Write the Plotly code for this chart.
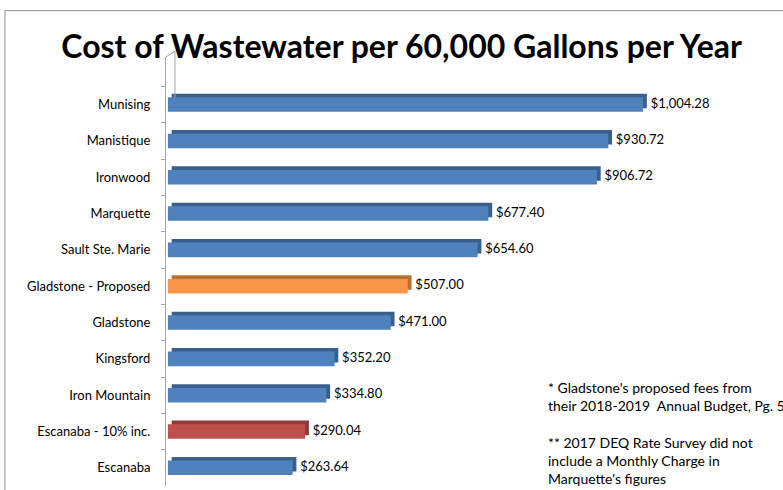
import plotly.graph_objects as go

# data (top to bottom)
cities = ["Munising", "Manistique", "Ironwood", "Marquette", "Sault Ste. Marie",
          "Gladstone - Proposed", "Gladstone", "Kingsford", "Iron Mountain",
          "Escanaba - 10% inc.", "Escanaba"]
costs = [1004.28, 930.72, 906.72, 677.40, 654.60, 507.00, 471.00, 352.20,
         334.80, 290.04, 263.64]
labels = ["$1,004.28", "$930.72", "$906.72", "$677.40", "$654.60", "$507.00",
          "$471.00", "$352.20", "$334.80", "$290.04", "$263.64"]

front_col = {"Gladstone - Proposed": "#f79646", "Escanaba - 10% inc.": "#c0504d"}
back_col = {"Gladstone - Proposed": "#b9702f", "Escanaba - 10% inc.": "#8e3a37"}
face = [front_col.get(c, "#4f81bd") for c in cities]
side = [back_col.get(c, "#3a5f8c") for c in cities]

depth = 8  # fake 3d depth in dollars

fig = go.Figure()
# back / side face for the 3d look
fig.add_trace(go.Bar(
    y=cities, x=costs, base=depth, orientation="h",
    width=0.4, offset=-0.3, marker=dict(color=side, line=dict(width=0)),
    hoverinfo="skip", showlegend=False))
# front face
fig.add_trace(go.Bar(
    y=cities, x=costs, orientation="h",
    width=0.4, offset=-0.2, marker=dict(color=face, line=dict(width=0)),
    showlegend=False))
# value labels
fig.add_trace(go.Scatter(
    y=cities, x=[v + 2 * depth for v in costs], mode="text", text=labels,
    textposition="middle right", textfont=dict(family="Lato", size=13, color="#000000"),
    cliponaxis=False, showlegend=False, hoverinfo="skip"))

fig.update_layout(
    width=783, height=490,
    margin=dict(l=166, r=0, t=57, b=4),
    paper_bgcolor="white", plot_bgcolor="white",
    barmode="overlay",
    title=dict(text="<b>Cost of Wastewater per 60,000 Gallons per Year</b>",
               x=0.513, xanchor="center", y=0.904, yanchor="middle",
               font=dict(family="Lato", size=32, color="#000000")),
    xaxis=dict(range=[-4, 1300], visible=False),
    yaxis=dict(categoryorder="array", categoryarray=cities, range=[10.5, -1.31],
               showline=True, linecolor="#a6a6a6", linewidth=1,
               ticks="outside", tickson="boundaries", ticklen=4, tickcolor="#a6a6a6",
               ticklabelstandoff=12,
               tickfont=dict(family="Lato", size=13, color="#000000"),
               showgrid=False, zeroline=False),
    font=dict(family="Lato"),
    showlegend=False,
)

# chart border (cut off at right/bottom like the screenshot)
fig.add_shape(type="path", xref="paper", yref="paper",
              path="M -0.261 -0.05 L -0.261 1.108 L 1.05 1.108",
              line=dict(color="#8c8c8c", width=1))
# slanted top and back edge of the 3d wall
fig.add_shape(type="path", xref="paper", yref="paper",
              path="M 0 1.0 L 0.0146 1.0138 L 0.0146 0.905",
              line=dict(color="#a6a6a6", width=1))

notes = ("* Gladstone's proposed fees from<br>their 2018-2019  Annual Budget, Pg. 5"
         "<br><br>** 2017 DEQ Rate Survey did not<br>include a Monthly Charge in"
         "<br>Marquette's figures")
fig.add_annotation(text=notes, xref="paper", yref="paper", x=0.616, y=0.255,
                   xanchor="left", yanchor="top", align="left", showarrow=False,
                   font=dict(family="Lato", size=14, color="#000000"))

fig.write_html("out.html", config={"displayModeBar": False},
               post_script="document.body.style.margin='0px';")
